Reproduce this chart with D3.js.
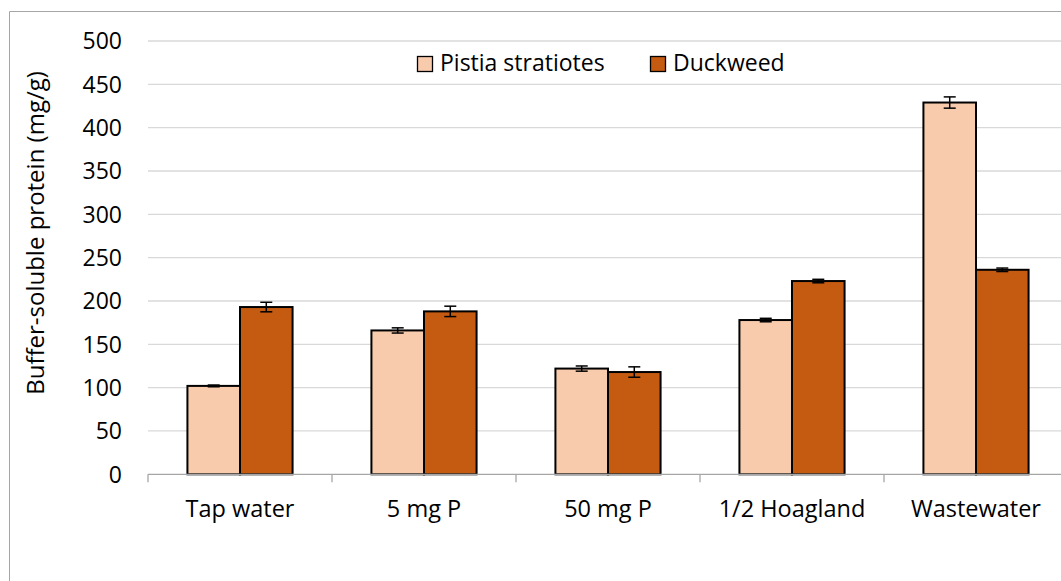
<!DOCTYPE html>
<html><head><meta charset="utf-8">
<script src="https://cdn.jsdelivr.net/npm/d3@7"></script>
<style>body{margin:0;background:#fff}svg{display:block;font-family:"Open Sans",sans-serif}</style>
</head><body><svg id="c" width="1061" height="581"></svg>
<script>
const categories = ["Tap water","5 mg P","50 mg P","1/2 Hoagland","Wastewater"];
const seriesNames = ["Pistia stratiotes","Duckweed"];
const pistia = [102,166,122,178,429];
const pistiaErr = [1,3,3,2,6.5];
const duckweed = [193,188,118,223,236];
const duckweedErr = [5.5,6,6,2,2];
const yTicks = [0,50,100,150,200,250,300,350,400,450,500];
const colors = ["#F8CBAD","#C55A11"];

const svg = d3.select("#c");
const L = 148, R = 1068, T = 41, B = 474.3;
// chart border
svg.append("path").attr("d","M9.5,600 V11.5 H1100").attr("fill","none").attr("stroke","#a6a6a6").attr("stroke-width",1);

const x = d3.scaleBand().domain(categories).range([L,R]).paddingInner(0).paddingOuter(0);
const y = d3.scaleLinear().domain([0,500]).range([B,T]);

// gridlines
svg.append("g").selectAll("line").data(yTicks.filter(d=>d>0)).join("line")
  .attr("x1",L).attr("x2",R).attr("y1",d=>y(d)).attr("y2",d=>y(d))
  .attr("stroke","#d9d9d9").attr("stroke-width",1.3);

// y tick labels
svg.append("g").selectAll("text").data(yTicks).join("text")
  .attr("x",122).attr("y",d=>y(d)).attr("dy","0.36em").attr("text-anchor","end")
  .attr("font-size",23).attr("fill","#000").text(d=>d);

// bars
const bw = x.bandwidth()/3.5; // gap width 150%
const data = [];
categories.forEach((c,i)=>{
  data.push({c, s:0, v:pistia[i], e:pistiaErr[i]});
  data.push({c, s:1, v:duckweed[i], e:duckweedErr[i]});
});
const bx = d => x(d.c) + 0.75*bw + d.s*bw;
svg.append("g").selectAll("rect").data(data).join("rect")
  .attr("x",bx).attr("width",bw).attr("y",d=>y(d.v)).attr("height",d=>B-y(d.v))
  .attr("fill",d=>colors[d.s]).attr("stroke","#000").attr("stroke-width",2);

// error bars
const eg = svg.append("g").attr("stroke","#000").attr("stroke-width",1.5);
data.forEach(d=>{
  const cx = bx(d)+bw/2;
  eg.append("line").attr("x1",cx).attr("x2",cx).attr("y1",y(d.v+d.e)).attr("y2",y(d.v-d.e));
  eg.append("line").attr("x1",cx-6).attr("x2",cx+6).attr("y1",y(d.v+d.e)).attr("y2",y(d.v+d.e));
  eg.append("line").attr("x1",cx-6).attr("x2",cx+6).attr("y1",y(d.v-d.e)).attr("y2",y(d.v-d.e));
});

// x axis line and ticks
svg.append("line").attr("x1",L).attr("x2",R).attr("y1",B).attr("y2",B).attr("stroke","#a6a6a6").attr("stroke-width",1.3);
svg.append("g").selectAll("line").data(categories.concat(["end"])).join("line")
  .attr("x1",(d,i)=>L+i*x.bandwidth()).attr("x2",(d,i)=>L+i*x.bandwidth())
  .attr("y1",B).attr("y2",B+8).attr("stroke","#a6a6a6").attr("stroke-width",1.3);

// x labels
svg.append("g").selectAll("text").data(categories).join("text")
  .attr("x",d=>x(d)+x.bandwidth()/2).attr("y",517).attr("text-anchor","middle")
  .attr("font-size",23.5).attr("fill","#000").text(d=>d);

// y axis title
svg.append("text").attr("transform","translate(44,233) rotate(-90)").attr("text-anchor","middle")
  .attr("font-size",24).attr("fill","#000").text("Buffer-soluble protein (mg/g)");

// legend
const legX = [417.5, 650.5];
const lg = svg.append("g");
seriesNames.forEach((s,i)=>{
  lg.append("rect").attr("x",legX[i]).attr("y",56.5).attr("width",15).attr("height",15)
    .attr("fill",colors[i]).attr("stroke","#000").attr("stroke-width",1.3);
  lg.append("text").attr("x",legX[i]+22.5).attr("y",70.5).attr("font-size",23).attr("fill","#000").text(s);
});
</script></body></html>
